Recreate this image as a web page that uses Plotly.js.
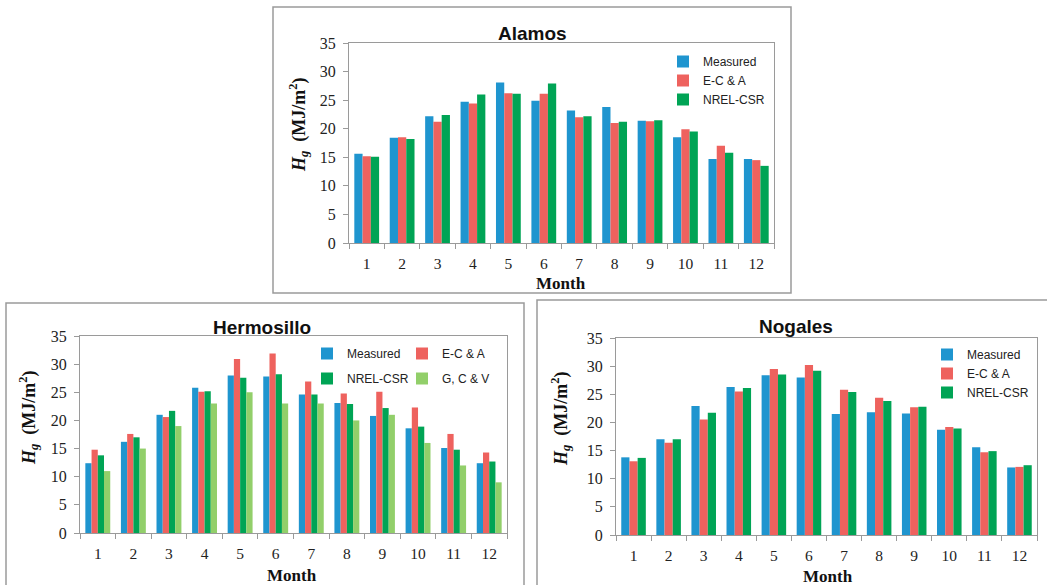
<!DOCTYPE html>
<html>
<head>
<meta charset="utf-8">
<script src="https://cdn.plot.ly/plotly-3.0.1.min.js"></script>
<style>html,body{margin:0;padding:0;background:#fff;}#chart{width:1047px;height:585px;}</style>
</head>
<body>
<div id="chart"></div>
<script>
// ---- data ----
const months = [1,2,3,4,5,6,7,8,9,10,11,12];
const monthLabels = ['1','2','3','4','5','6','7','8','9','10','11','12'];
const seriesNames = ['Measured','E-C & A','NREL-CSR','G, C & V'];

const alamosMeasured = [15.6, 18.4, 22.2, 24.7, 28.1, 24.9, 23.2, 23.8, 21.4, 18.5, 14.7, 14.7];
const alamosECA      = [15.2, 18.5, 21.2, 24.4, 26.2, 26.1, 22.0, 21.0, 21.3, 19.9, 17.0, 14.5];
const alamosNREL     = [15.1, 18.2, 22.4, 26.0, 26.1, 27.9, 22.2, 21.2, 21.5, 19.5, 15.8, 13.5];

const hermoMeasured = [12.4, 16.2, 21.0, 25.8, 28.0, 27.8, 24.6, 23.1, 20.8, 18.6, 15.1, 12.4];
const hermoECA      = [14.8, 17.6, 20.6, 25.1, 30.9, 31.9, 26.9, 24.8, 25.1, 22.3, 17.6, 14.3];
const hermoNREL     = [13.8, 17.0, 21.7, 25.2, 27.6, 28.2, 24.6, 22.9, 22.2, 18.9, 14.8, 12.7];
const hermoGCV      = [11.0, 15.0, 19.0, 23.0, 25.0, 23.0, 23.0, 20.0, 21.0, 16.0, 12.0, 9.0];

const nogMeasured = [13.8, 17.0, 22.9, 26.3, 28.4, 28.0, 21.5, 21.8, 21.6, 18.7, 15.6, 12.0];
const nogECA      = [13.1, 16.4, 20.5, 25.5, 29.5, 30.2, 25.8, 24.4, 22.7, 19.2, 14.7, 12.1];
const nogNREL     = [13.7, 17.0, 21.7, 26.1, 28.5, 29.2, 25.4, 23.8, 22.8, 18.9, 14.9, 12.4];

// ---- styling ----
const W = 1047, H = 585;
const px = x => x / W;
const py = y => 1 - y / H;
const colors = ['#1f95cf', '#ee625e', '#00a455', '#92cf6a'];
const serif = 'Liberation Serif, Times New Roman, serif';
const sans = 'Liberation Sans, Arial, sans-serif';

function bar(x, y, i, xa, ya, legend, group) {
  return {
    type: 'bar', x: x, y: y, name: seriesNames[i],
    marker: {color: colors[i], line: {width: 0}},
    xaxis: xa, yaxis: ya, legend: legend, legendgroup: group,
    hoverinfo: 'x+y+name'
  };
}

const data = [
  bar(months, alamosMeasured, 0, 'x', 'y', 'legend', 'a0'),
  bar(months, alamosECA, 1, 'x', 'y', 'legend', 'a1'),
  bar(months, alamosNREL, 2, 'x', 'y', 'legend', 'a2'),
  bar(months, hermoMeasured, 0, 'x2', 'y2', 'legend2', 'h0'),
  bar(months, hermoECA, 1, 'x2', 'y2', 'legend3', 'h1'),
  bar(months, hermoNREL, 2, 'x2', 'y2', 'legend2', 'h2'),
  bar(months, hermoGCV, 3, 'x2', 'y2', 'legend3', 'h3'),
  bar(months, nogMeasured, 0, 'x3', 'y3', 'legend4', 'n0'),
  bar(months, nogECA, 1, 'x3', 'y3', 'legend4', 'n1'),
  bar(months, nogNREL, 2, 'x3', 'y3', 'legend4', 'n2')
];

function xax(domain, anchor) {
  return {
    domain: domain, anchor: anchor, range: [0.5, 12.5],
    tickmode: 'array', tickvals: months, ticktext: monthLabels,
    ticks: '', showgrid: false, zeroline: false,
    showline: true, linecolor: '#9a9a9a', linewidth: 1, mirror: true,
    tickfont: {family: serif, size: 15.5, color: '#222'},
    ticklabelstandoff: 6,
    minor: {tickmode: 'linear', tick0: 0.5, dtick: 1, ticks: 'outside', ticklen: 5, tickcolor: '#9a9a9a', showgrid: false},
    fixedrange: true
  };
}
function yax(domain, anchor) {
  return {
    domain: domain, anchor: anchor, range: [0, 35], dtick: 5, tick0: 0,
    ticks: 'outside', ticklen: 5, tickcolor: '#9a9a9a',
    showgrid: false, zeroline: false,
    showline: true, linecolor: '#9a9a9a', linewidth: 1, mirror: true,
    tickfont: {family: serif, size: 16, color: '#222'},
    ticklabelstandoff: 4,
    fixedrange: true
  };
}

const legendBase = {
  bgcolor: 'rgba(0,0,0,0)', borderwidth: 0,
  font: {family: sans, size: 12, color: '#222'},
  xanchor: 'left', yanchor: 'top', orientation: 'v', traceorder: 'normal'
};

const yTitle = '<b><i>H</i><sub><i>g</i></sub>&nbsp;&nbsp;(MJ/m<sup>2</sup>)</b>';

function ann(text, x, y, size, family, angle) {
  return {text: text, xref: 'paper', yref: 'paper', x: px(x), y: py(y),
    xanchor: 'center', yanchor: 'middle', showarrow: false,
    textangle: angle || 0, font: {family: family, size: size, color: '#111'}};
}

function box(x0, y0, x1, y1) {
  return {type: 'rect', xref: 'paper', yref: 'paper', x0: px(x0), x1: px(x1), y0: py(y1), y1: py(y0),
    line: {color: '#9a9a9a', width: 1.5}, fillcolor: 'rgba(0,0,0,0)', layer: 'below'};
}

const layout = {
  width: W, height: H,
  margin: {l: 0, r: 0, t: 0, b: 0},
  paper_bgcolor: '#fff', plot_bgcolor: '#fff',
  barmode: 'group', bargap: 0.3, bargroupgap: 0,
  showlegend: true,
  xaxis: xax([px(349), px(774)], 'y'),
  yaxis: yax([py(243), py(43)], 'x'),
  xaxis2: xax([px(80), px(507)], 'y2'),
  yaxis2: yax([py(533), py(336)], 'x2'),
  xaxis3: xax([px(616), px(1037)], 'y3'),
  yaxis3: yax([py(535), py(338)], 'x3'),
  legend: Object.assign({}, legendBase, {x: px(663), y: py(47)}),
  legend2: Object.assign({}, legendBase, {x: px(307), y: py(339), traceorder: 'grouped', tracegroupgap: 6}),
  legend3: Object.assign({}, legendBase, {x: px(402), y: py(339), traceorder: 'grouped', tracegroupgap: 6}),
  legend4: Object.assign({}, legendBase, {x: px(927), y: py(340)}),
  shapes: [
    box(273, 7, 791, 293),
    box(6, 303, 524, 600),
    box(537, 300, 1060, 600)
  ],
  annotations: [
    ann('<b>Alamos</b>', 533, 33, 19, sans),
    ann('<b>Hermosillo</b>', 262, 327, 19, sans),
    ann('<b>Nogales</b>', 796, 326, 19, sans),
    ann('<b>Month</b>', 561, 283, 17, serif),
    ann('<b>Month</b>', 292, 575, 17, serif),
    ann('<b>Month</b>', 828, 576, 17, serif),
    ann(yTitle, 298, 125, 18, serif, -90),
    ann(yTitle, 28, 418, 18, serif, -90),
    ann(yTitle, 560, 419, 18, serif, -90)
  ]
};

Plotly.newPlot('chart', data, layout, {displayModeBar: false, staticPlot: true});
</script>
</body>
</html>
